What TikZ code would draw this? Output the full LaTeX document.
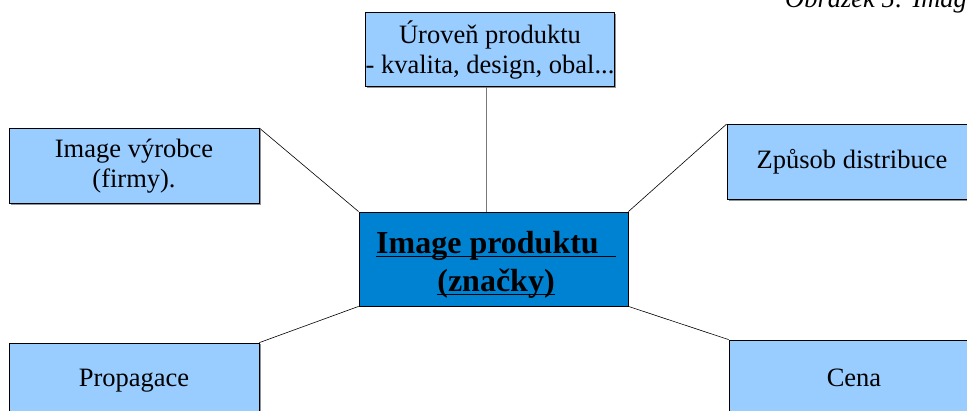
\documentclass[tikz,border=0pt]{standalone}
\usepackage{fontspec}
\setmainfont{Liberation Serif}
\usetikzlibrary{shadows}
\definecolor{boxfill}{RGB}{153,204,255}
\definecolor{hubfill}{RGB}{0,130,210}
\definecolor{shade}{RGB}{120,120,120}
\newcommand\ulbox[1]{\setbox0\hbox{#1}\rlap{\rule[-3.5pt]{\wd0}{1.6pt}}\box0}
\begin{document}
\begin{tikzpicture}[x=1pt,y=-1pt,
  leaf/.style={draw=black, line width=0.8pt, fill=boxfill, minimum width=250pt,
    minimum height=75pt, inner sep=0pt, align=center,
    font=\fontsize{26.5}{30}\selectfont,
    drop shadow={shadow xshift=1.5pt, shadow yshift=-1.5pt, fill=shade, opacity=0.8}},
  hub/.style={draw=black, line width=0.8pt, fill=hubfill, minimum width=269pt,
    minimum height=94pt, inner sep=0pt},
  hubtext/.style={inner sep=0pt, align=center, font=\fontsize{32}{38}\selectfont\bfseries},
  link/.style={draw=black, line width=0.6pt}]
\useasboundingbox (0,0) rectangle (967,411);
\clip (0,0) rectangle (967,411);
% caption, partly outside the frame
\node[anchor=base west, inner sep=0pt, font=\fontsize{26.5}{30}\selectfont\itshape]
  (cap) at (785,8) {Obrázek 5: Image produktu};
% central box and its underlined title
\node[hub] (ctr) at (493.5,259) {};
\node[hubtext] (ctrtitle) at (496,265) {\ulbox{Image produktu\hspace{17pt}}\\\ulbox{(značky)}};
% surrounding boxes
\node[leaf, minimum width=248pt, minimum height=74pt] (top) at (490,49.5) {Úroveň produktu\\- kvalita, design, obal...};
\node[leaf] (maker) at (134,166) {Image výrobce\\(firmy).};
\node[leaf] (dist) at (852,162) {Způsob distribuce};
\node[leaf] (promo) at (134,380.5) {Propagace};
\node[leaf] (price) at (854,377.5) {Cena};
% connectors
\draw[link, draw=shade] ([xshift=-4pt]top.south) -- ([xshift=-4pt]top.south |- ctr.north);
\draw[link] (maker.north east) -- (ctr.north west);
\draw[link] (dist.north west) -- (ctr.north east);
\draw[link] (ctr.south west) -- (promo.north east);
\draw[link] (ctr.south east) -- (price.north west);
\end{tikzpicture}
\end{document}
